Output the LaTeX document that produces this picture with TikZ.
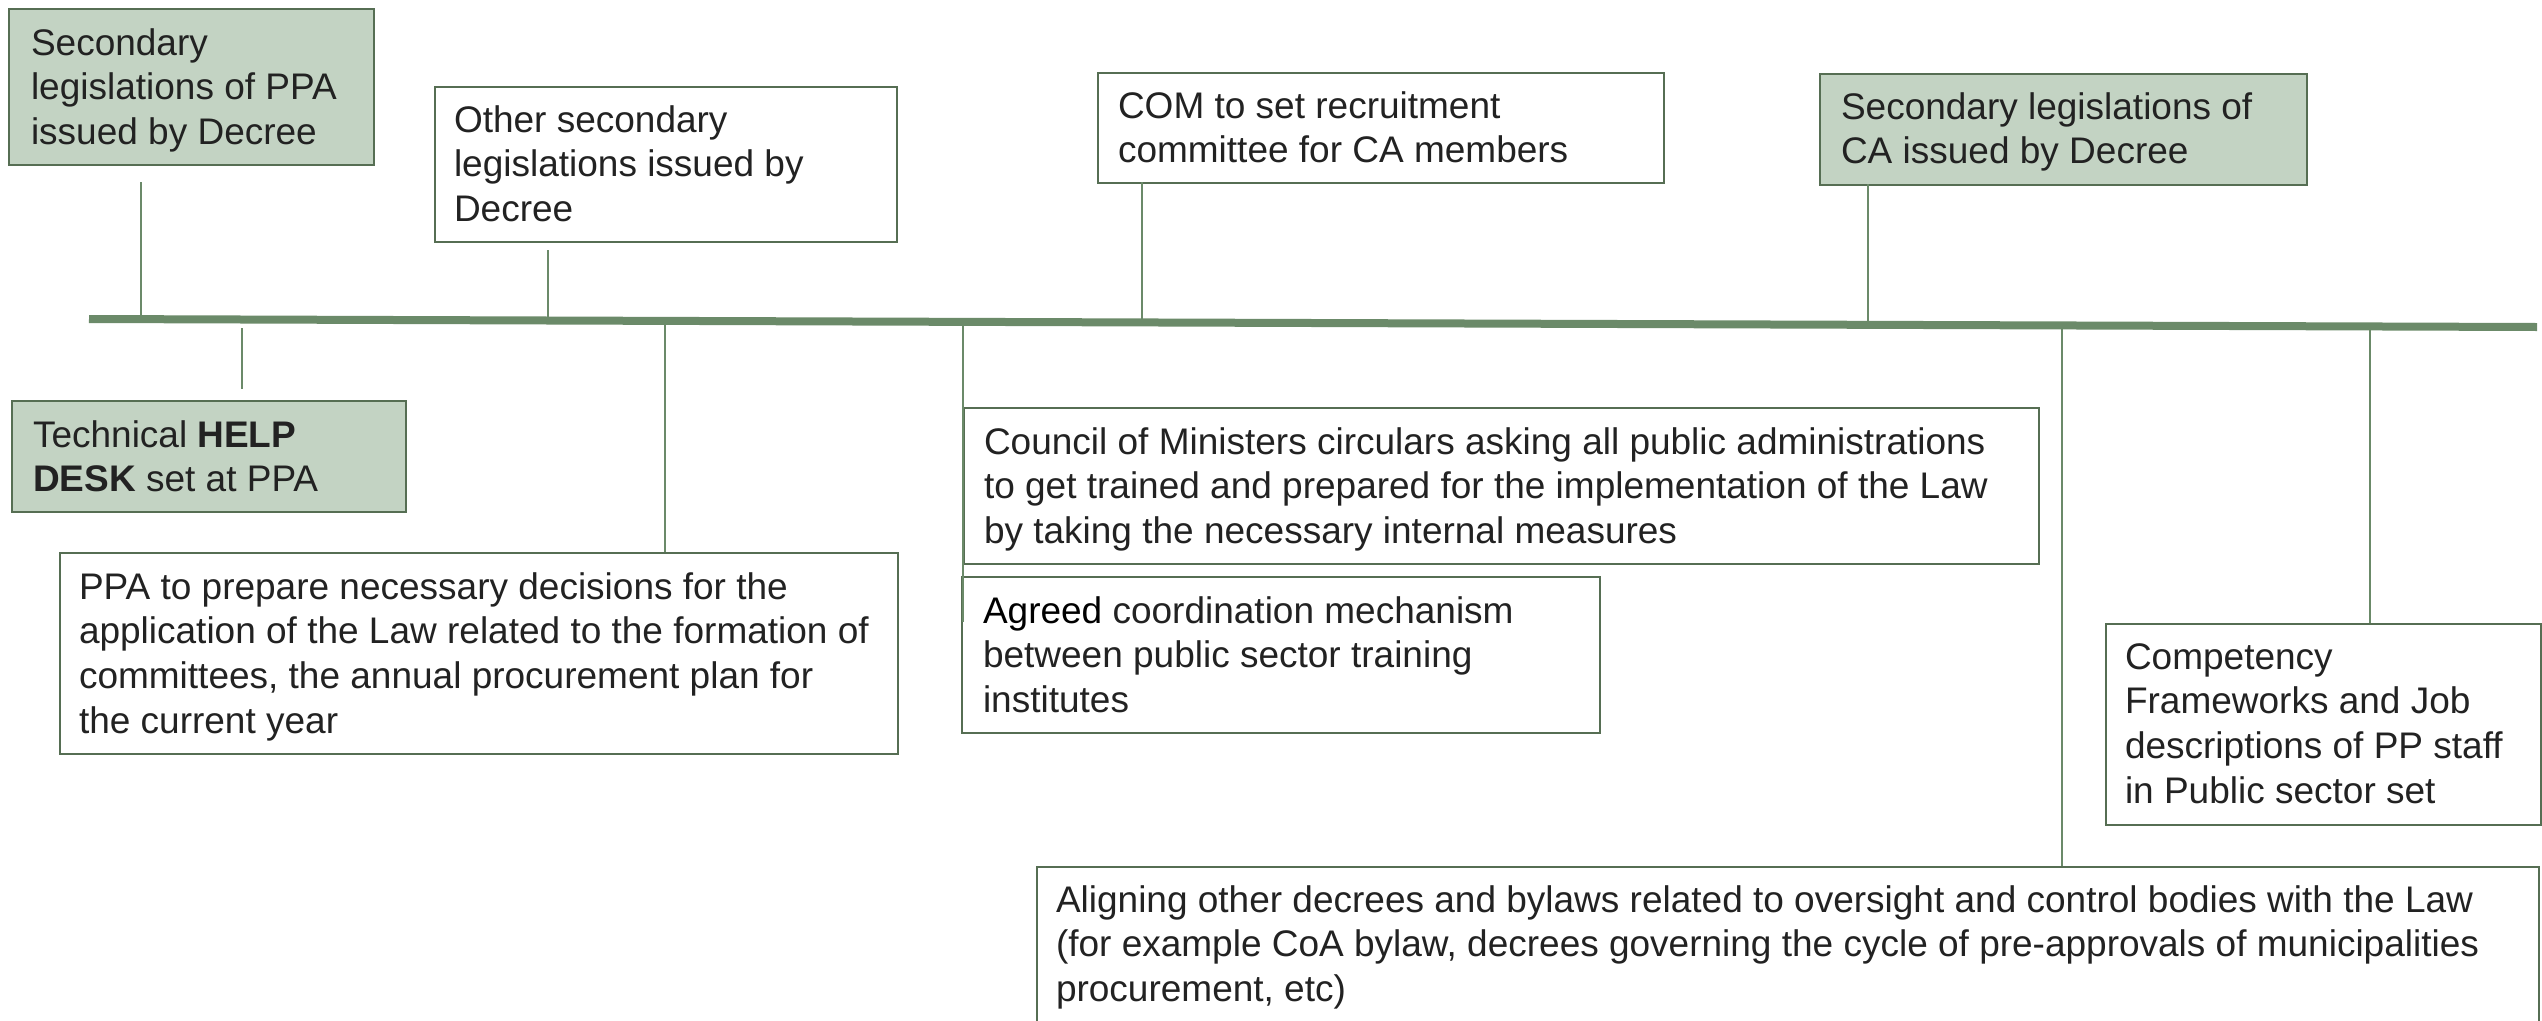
\documentclass[tikz,border=0pt]{standalone}
\usepackage{fontspec}
\setmainfont{Liberation Sans}
\usepackage{xcolor}
\definecolor{sage}{HTML}{C3D3C3}
\definecolor{edge}{HTML}{566E53}
\definecolor{tline}{HTML}{6B8A69}
\definecolor{ink}{HTML}{222222}
\newcommand{\bxtext}[3]{\parbox[t][#2][t]{#1}{\raggedright\rule{0pt}{#3}#3pt}}
\newcommand{\boxlines}[4]{\parbox[t][#2pt][t]{#1pt}{\raggedright\rule{0pt}{#3pt}#4}}
\begin{document}
\begin{tikzpicture}[x=1pt,y=-1pt,
  every node/.style={font=\fontsize{37}{44.7}\selectfont, text=ink},
  box/.style={draw=edge, line width=2pt, inner ysep=0pt, anchor=north west, fill=white},
  gbox/.style={box, fill=sage},
  conn/.style={draw=tline, line width=2.2pt},
  axis/.style={draw=tline, line width=8pt}]
\useasboundingbox (0,0) rectangle (2542,1020);

% boxes
\node[gbox, inner xsep=22pt] (b1) at (8,8)
  {\boxlines{321}{156}{46}{\mbox{Secondary}\\\mbox{legislations of PPA}\\\mbox{issued by Decree}}};
\node[box, inner xsep=19pt] (b2) at (434,86)
  {\boxlines{424}{155}{45}{\mbox{Other secondary}\\\mbox{legislations issued by}\\\mbox{Decree}}};
\node[box, inner xsep=20pt] (com) at (1097,72)
  {\boxlines{526}{110}{45}{\mbox{COM to set recruitment}\\\mbox{committee for CA members}}};
\node[gbox, inner xsep=21pt] (ca) at (1819,73)
  {\boxlines{445}{111}{45}{\mbox{Secondary legislations of}\\\mbox{CA issued by Decree}}};
\node[gbox, inner xsep=21pt] (help) at (11,400)
  {\boxlines{352}{111}{46}{\mbox{Technical \textbf{HELP}}\\\mbox{\textbf{DESK} set at PPA}}};
\node[box, inner xsep=19pt] (ppa) at (59,552)
  {\boxlines{800}{201}{46}{\mbox{PPA to prepare necessary decisions for the}\\\mbox{application of the Law related to the formation of}\\\mbox{committees, the annual procurement plan for}\\\mbox{the current year}}};
\node[box, inner xsep=20pt] (council) at (963,407)
  {\boxlines{1035}{156}{46}{\mbox{Council of Ministers circulars asking all public administrations}\\\mbox{to get trained and prepared for the implementation of the Law}\\\mbox{by taking the necessary internal measures}}};
\node[box, inner xsep=21pt] (agreed) at (961,576)
  {\boxlines{596}{156}{46}{\mbox{{\color{black}Agreed} coordination mechanism}\\\mbox{between public sector training}\\\mbox{institutes}}};
\node[box, inner xsep=19pt] (align) at (1036,866)
  {\boxlines{1464}{200}{45}{\mbox{Aligning other decrees and bylaws related to oversight and control bodies with the Law}\\\mbox{(for example CoA bylaw, decrees governing the cycle of pre-approvals of municipalities}\\\mbox{procurement, etc)}}};
\node[box, inner xsep=19pt] (comp) at (2105,623)
  {\boxlines{397}{201}{45}{\mbox{Competency}\\\mbox{Frameworks and Job}\\\mbox{descriptions of PP staff}\\\mbox{in Public sector set}}};

% timeline end points and connector ends
\coordinate (t0) at (89,319);
\coordinate (t1) at (2537,327);
\coordinate (c1a) at (141,182);   \coordinate (c1b) at (141,319.2);
\coordinate (c2a) at (548,250);   \coordinate (c2b) at (548,320.5);
\coordinate (c3a) at (242,328);   \coordinate (c3b) at (242,389);
\coordinate (c4a) at (665,320.9); \coordinate (c4b) at (665,552);
\coordinate (c5a) at (963,321.9); \coordinate (c5b) at (963,622);
\coordinate (c6a) at (1142,182);  \coordinate (c6b) at (1142,322.4);
\coordinate (c7a) at (1868,184);  \coordinate (c7b) at (1868,324.8);
\coordinate (c8a) at (2062,325.4); \coordinate (c8b) at (2062,866);
\coordinate (c9a) at (2370,326.5); \coordinate (c9b) at (2370,623);

\draw[conn] (c1a) -- (c1b);
\draw[conn] (c2a) -- (c2b);
\draw[conn] (c3a) -- (c3b);
\draw[conn] (c4a) -- (c4b);
\draw[conn] (c5a) -- (c5b);
\draw[conn] (c6a) -- (c6b);
\draw[conn] (c7a) -- (c7b);
\draw[conn] (c8a) -- (c8b);
\draw[conn] (c9a) -- (c9b);

\draw[axis] (t0) -- (t1);
\end{tikzpicture}
\end{document}
